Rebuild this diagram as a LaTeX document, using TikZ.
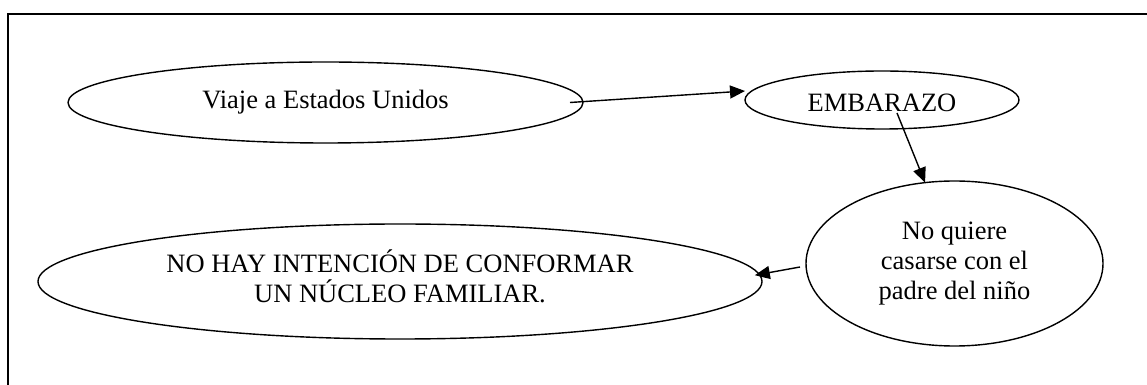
\documentclass[tikz,border=0pt]{standalone}
\usepackage{fontspec}
\setmainfont{Liberation Serif}
\usetikzlibrary{shapes.geometric,arrows.meta}
\begin{document}
\begin{tikzpicture}[x=1pt,y=1pt,
  ell/.style={draw, ellipse, line width=1.4pt, inner sep=0pt, outer sep=0pt,
    font=\fontsize{26.5}{30}\selectfont, align=center},
  arr/.style={-{Triangle[length=15pt,width=13pt]}, line width=1.4pt},
  frame/.style={line width=2pt}]
\useasboundingbox (0,0) rectangle (1147,385);
\draw[frame] (1160,371) -- (8,371) -- (8,-10);
\node[ell, minimum width=515pt, minimum height=81pt] (A) at (325.5,282.5) {Viaje a Estados Unidos};
\node[ell, minimum width=274pt, minimum height=58pt, text height=24pt, text depth=0pt] (B) at (882,285) {EMBARAZO};
\node[ell, minimum width=297pt, minimum height=165pt] (C) at (954.5,121.5) {No quiere\\casarse con el\\padre del niño};
\node[ell, minimum width=724pt, minimum height=115pt, text depth=11pt] (D) at (400,103.5) {NO HAY INTENCIÓN DE CONFORMAR\\UN NÚCLEO FAMILIAR.};
\draw[arr] ([xshift=-13pt]A.east) -- ([yshift=9pt]B.west);
\draw[arr] ([shift={(15,-13)}]B.center) -- (C.110);
\draw[arr] ([shift={(-6,-3.5)}]C.west) -- ([xshift=-5pt]D.1.2);
\end{tikzpicture}
\end{document}
